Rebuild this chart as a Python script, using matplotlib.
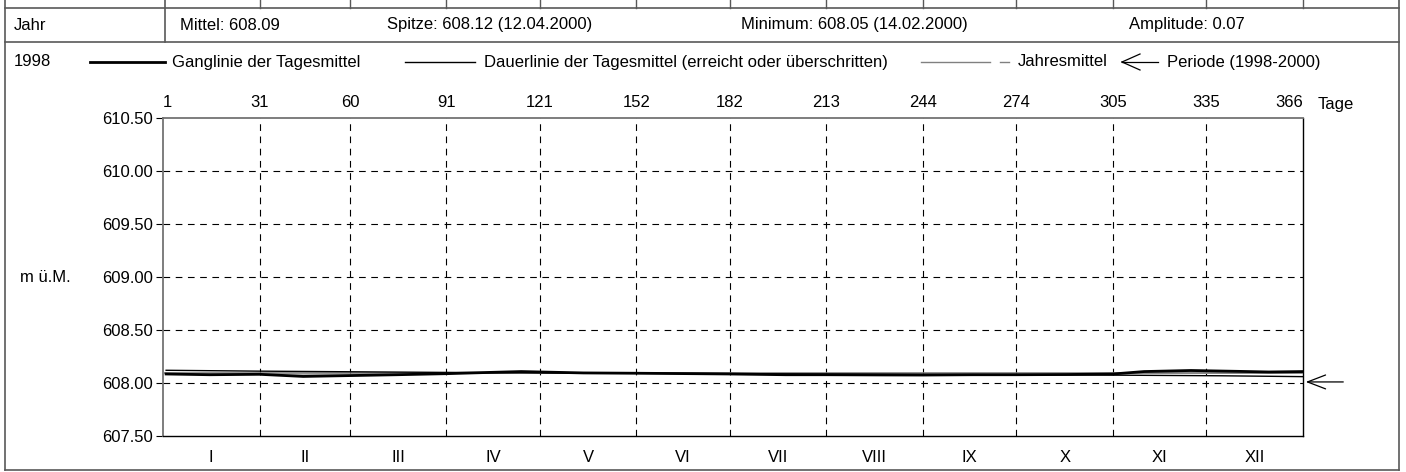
import matplotlib
matplotlib.use('Agg')
import matplotlib.pyplot as plt
from matplotlib.lines import Line2D
import numpy as np

plt.rcParams['font.family'] = ['Liberation Sans', 'DejaVu Sans']
FS = 12

# --- data ---
month_edges = [0, 31, 60, 91, 121, 152, 182, 213, 244, 274, 305, 335, 366]
top_labels = ['1', '31', '60', '91', '121', '152', '182', '213', '244', '274', '305', '335', '366']
month_names = ['I', 'II', 'III', 'IV', 'V', 'VI', 'VII', 'VIII', 'IX', 'X', 'XI', 'XII']
y_ticks = [607.5, 608.0, 608.5, 609.0, 609.5, 610.0, 610.5]

gang_days = [1, 15, 31, 45, 60, 75, 91, 105, 115, 121, 135, 152, 170, 182, 200, 213,
             230, 244, 260, 274, 290, 305, 315, 330, 345, 355, 366]
gang_vals = [608.085, 608.078, 608.082, 608.062, 608.070, 608.078, 608.088, 608.100, 608.108,
             608.104, 608.095, 608.092, 608.088, 608.085, 608.078, 608.078, 608.076, 608.075,
             608.078, 608.078, 608.080, 608.085, 608.108, 608.118, 608.110, 608.104, 608.108]

dauer_days = [1, 30, 90, 150, 200, 250, 300, 340, 366]
dauer_vals = [608.120, 608.112, 608.100, 608.092, 608.086, 608.080, 608.075, 608.068, 608.060]

jahresmittel = 608.09
periode_mittel = 608.01

stats_text = ['Mittel: 608.09', 'Spitze: 608.12 (12.04.2000)',
              'Minimum: 608.05 (14.02.2000)', 'Amplitude: 0.07']

W, H = 1406, 472


def fx(x):
    return x / W


def fy(y):
    return 1 - y / H


fig = plt.figure(figsize=(W / 100, H / 100), dpi=100)
ax = fig.add_axes([fx(163), fy(436), fx(1303) - fx(163), fy(118) - fy(436)])

# grey band between daily mean and annual mean
gd = np.array(gang_days)
gv = np.array(gang_vals)
ax.fill_between(gd, gv, jahresmittel, color='0.7', lw=0, zorder=2)
ax.axhline(jahresmittel, color='0.5', lw=1.2, zorder=3)
ax.plot(dauer_days, dauer_vals, color='black', lw=1.0, zorder=4)
ax.plot(gang_days, gang_vals, color='black', lw=2.0, zorder=5)

ax.set_xlim(month_edges[0], month_edges[-1])
ax.set_ylim(y_ticks[0], y_ticks[-1])

# grid
for d in month_edges[1:-1]:
    ax.axvline(d, color='black', lw=0.8, ls=(0, (6, 5)), zorder=1)
for v in y_ticks[1:-1]:
    ax.axhline(v, color='black', lw=0.8, ls=(0, (6, 5)), zorder=1)

ax.set_yticks(y_ticks)
ax.set_yticklabels([f'{v:.2f}' for v in y_ticks], fontsize=FS)
ax.tick_params(axis='y', length=5, width=0.8, pad=2)
ax.xaxis.tick_top()
ax.set_xticks(month_edges)
ax.set_xticklabels(top_labels, fontsize=FS)
ax.tick_params(axis='x', length=0, pad=6)
labs = ax.get_xticklabels()
labs[-1].set_ha('right')
labs[0].set_ha('left')

centers = [(month_edges[i] + month_edges[i + 1]) / 2 for i in range(12)]
for c, name in zip(centers, month_names):
    ax.text(c, -0.045, name, transform=ax.get_xaxis_transform(), ha='center', va='top', fontsize=FS)

ax.text(1.013, 1.02, 'Tage', transform=ax.transAxes, ha='left', va='bottom', fontsize=FS)

for side in ['left', 'top']:
    ax.spines[side].set_color('0.45')
    ax.spines[side].set_linewidth(1.3)
for side in ['right', 'bottom']:
    ax.spines[side].set_color('black')
    ax.spines[side].set_linewidth(1.0)

# arrow for period mean
ax.annotate('', xy=(month_edges[-1], periode_mittel), xycoords='data',
            xytext=(31, 0), textcoords='offset points', annotation_clip=False,
            arrowprops=dict(arrowstyle='->, head_length=1.3, head_width=0.5', color='black', lw=0.9))

# frames and header
fc = '0.35'


def hline(x0, x1, y, lw=1.2):
    fig.add_artist(Line2D([fx(x0), fx(x1)], [fy(y), fy(y)], color=fc, lw=lw))


def vline(x, y0, y1, lw=1.2):
    fig.add_artist(Line2D([fx(x), fx(x)], [fy(y0), fy(y1)], color=fc, lw=lw))


hline(5, 1399, 8)
hline(5, 1399, 42)
hline(5, 1399, 470)
vline(5, 0, 470)
vline(1399, 0, 470)
vline(165, 0, 42)
for d in month_edges[1:]:
    xp = 163 + (1303 - 163) * d / 366
    vline(xp, 0, 8, lw=1.0)

fig.text(fx(14), fy(25), 'Jahr', ha='left', va='center', fontsize=FS)
for x, t in zip([180, 387, 741, 1129], stats_text):
    fig.text(fx(x), fy(25), t, ha='left', va='center', fontsize=FS)

# legend row
ly = 62
fig.text(fx(14), fy(ly), '1998', ha='left', va='center', fontsize=FS)
fig.add_artist(Line2D([fx(90), fx(165)], [fy(ly), fy(ly)], color='black', lw=2))
fig.text(fx(172), fy(ly), 'Ganglinie der Tagesmittel', ha='left', va='center', fontsize=FS)
fig.add_artist(Line2D([fx(405), fx(475)], [fy(ly), fy(ly)], color='black', lw=1))
fig.text(fx(484), fy(ly), 'Dauerlinie der Tagesmittel (erreicht oder überschritten)',
         ha='left', va='center', fontsize=FS)
fig.add_artist(Line2D([fx(921), fx(990)], [fy(ly), fy(ly)], color='0.5', lw=1))
fig.add_artist(Line2D([fx(1000), fx(1009)], [fy(ly), fy(ly)], color='0.5', lw=1))
fig.text(fx(1018), fy(ly), 'Jahresmittel', ha='left', va='center', fontsize=FS)
fig.add_artist(Line2D([fx(1122), fx(1158)], [fy(ly), fy(ly)], color='black', lw=0.9))
fig.add_artist(Line2D([fx(1122), fx(1140)], [fy(ly), fy(ly - 8)], color='black', lw=0.9))
fig.add_artist(Line2D([fx(1122), fx(1140)], [fy(ly), fy(ly + 8)], color='black', lw=0.9))
fig.text(fx(1167), fy(ly), 'Periode (1998-2000)', ha='left', va='center', fontsize=FS)

fig.text(fx(20), fy(278), 'm ü.M.', ha='left', va='center', fontsize=FS)

fig.savefig('out.png', dpi=100)
